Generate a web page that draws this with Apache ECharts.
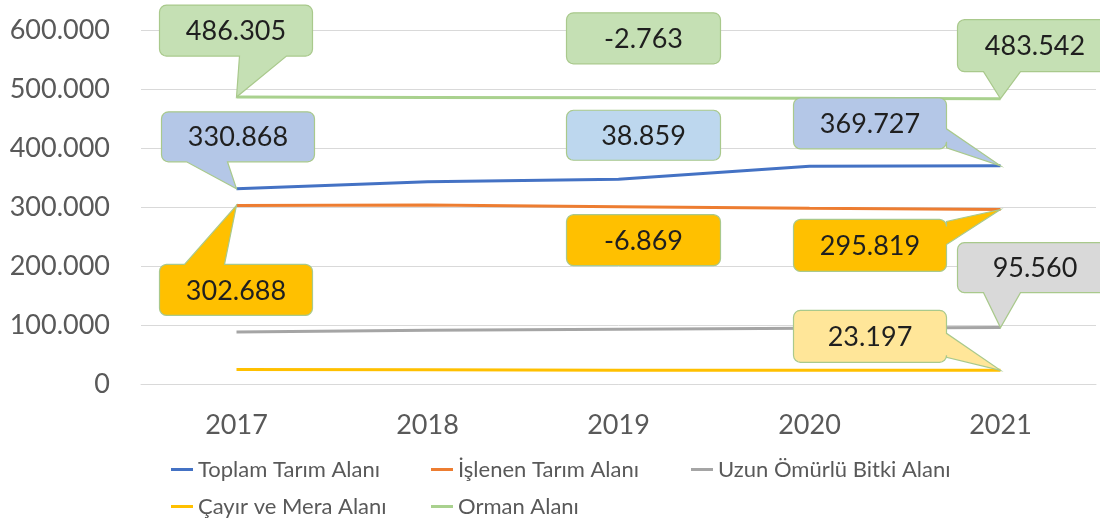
<!DOCTYPE html>
<html>
<head>
<meta charset="utf-8">
<script src="https://cdn.jsdelivr.net/npm/echarts@6/dist/echarts.min.js"></script>
<style>
    html, body { margin: 0; padding: 0; background: #fff; }
    #chart { width: 1100px; height: 525px; }
</style>
</head>
<body>
<div id="chart"></div>
<script>
// veriler
const years = ['2017', '2018', '2019', '2020', '2021'];
const toplamTarim = [330868, 343000, 347000, 369200, 369727];
const islenenTarim = [302688, 303500, 300500, 297800, 295819];
const uzunOmurlu = [88200, 91300, 93000, 94600, 95560];
const cayirMera = [24500, 24000, 23500, 23300, 23197];
const orman = [486305, 485700, 485100, 484300, 483542];
const seriesNames = ['Toplam Tarım Alanı', 'İşlenen Tarım Alanı', 'Uzun Ömürlü Bitki Alanı', 'Çayır ve Mera Alanı', 'Orman Alanı'];
const yMax = 600000;
const yStep = 100000;

(function () {
    let myChart = echarts.init(document.getElementById('chart'));
    const FONT = 'Lato';
    const allData = [toplamTarim, islenenTarim, uzunOmurlu, cayirMera, orman];
    const colors = ['#4472c4', '#ed7d31', '#a5a5a5', '#ffc000', '#a9d18e'];

    // 12345 -> "12.345"
    function fmt(v) {
        let s = String(Math.abs(Math.round(v))).replace(/\B(?=(\d{3})+(?!\d))/g, '.');
        return (v < 0 ? '-' : '') + s;
    }

    // kutucuklar: s = seri, i = yıl, kind = değer / değişim (son - ilk)
    // box = [dx, dy, w, h] noktaya göre, ptr = [kenar, baş, son]
    const callouts = [
        { s: 4, i: 0, kind: 'value', fill: '#c5e0b4', box: [-77, -92, 153, 51], ptr: ['bottom', 3, 50] },
        { s: 0, i: 0, kind: 'value', fill: '#b4c7e7', box: [-75, -77, 153, 50], ptr: ['bottom', -50, -9] },
        { s: 1, i: 0, kind: 'value', fill: '#ffc000', box: [-77, 59, 153, 51], ptr: ['top', -52, -12] },
        { s: 4, i: 2, kind: 'change', fill: '#c5e0b4', box: [-52, -85, 154, 51], ptr: null },
        { s: 0, i: 2, kind: 'change', fill: '#bdd7ee', box: [-52, -69, 154, 50], ptr: null },
        { s: 1, i: 2, kind: 'change', fill: '#ffc000', box: [-52, 8, 154, 51], ptr: null },
        { s: 0, i: 4, kind: 'value', fill: '#b4c7e7', box: [-207, -68, 153, 51], ptr: ['right', -37, -18] },
        { s: 4, i: 4, kind: 'value', fill: '#c5e0b4', box: [-43, -79, 155, 52], ptr: ['bottom', -17, 20] },
        { s: 1, i: 4, kind: 'value', fill: '#ffc000', box: [-207, 10, 153, 52], ptr: ['right', 12, 35] },
        { s: 2, i: 4, kind: 'value', fill: '#d9d9d9', box: [-43, -85, 155, 50], ptr: ['bottom', -17, 20] },
        { s: 3, i: 4, kind: 'value', fill: '#ffe699', box: [-207, -60, 153, 52], ptr: ['right', -37, -13] }
    ];
    callouts.forEach(function (c) {
        let d = allData[c.s];
        c.text = c.kind === 'value' ? fmt(d[c.i]) : fmt(d[d.length - 1] - d[0]);
    });
    const calloutData = callouts.map(function (c) { return [c.i, allData[c.s][c.i]]; });

    function boxPoints(x0, y0, w, h, r, ptr, tip) {
        let x1 = x0 + w, y1 = y0 + h, pts = [];
        function arc(cx, cy, a0) {
            for (let k = 0; k <= 4; k++) {
                let a = a0 + k * Math.PI / 8;
                pts.push([cx + r * Math.cos(a), cy + r * Math.sin(a)]);
            }
        }
        arc(x0 + r, y0 + r, Math.PI);
        if (ptr && ptr[0] === 'top') pts.push([tip[0] + ptr[1], y0], tip.slice(), [tip[0] + ptr[2], y0]);
        arc(x1 - r, y0 + r, 1.5 * Math.PI);
        if (ptr && ptr[0] === 'right') pts.push([x1, tip[1] + ptr[1]], tip.slice(), [x1, tip[1] + ptr[2]]);
        arc(x1 - r, y1 - r, 0);
        if (ptr && ptr[0] === 'bottom') pts.push([tip[0] + ptr[2], y1], tip.slice(), [tip[0] + ptr[1], y1]);
        arc(x0 + r, y1 - r, 0.5 * Math.PI);
        return pts;
    }

    function renderCallout(params, api) {
        let c = callouts[params.dataIndex];
        let p = api.coord([api.value(0), api.value(1)]);
        let x0 = p[0] + c.box[0], y0 = p[1] + c.box[1], w = c.box[2], h = c.box[3];
        return {
            type: 'group',
            children: [
                {
                    type: 'polygon',
                    shape: { points: boxPoints(x0, y0, w, h, 7, c.ptr, p) },
                    style: { fill: c.fill, stroke: '#a9c98c', lineWidth: 1.2 }
                },
                {
                    type: 'text',
                    style: {
                        text: c.text, x: x0 + w / 2, y: y0 + h / 2 + 1,
                        align: 'center', verticalAlign: 'middle',
                        fill: '#1f1f1f', font: '27px ' + FONT
                    }
                }
            ]
        };
    }

    let series = seriesNames.map(function (name, k) {
        return {
            name: name,
            type: 'line',
            data: allData[k],
            symbol: 'none',
            lineStyle: { width: 3, color: colors[k] },
            itemStyle: { color: colors[k] },
            z: 2
        };
    });
    series.push({
        type: 'custom',
        coordinateSystem: 'cartesian2d',
        data: calloutData,
        encode: { x: 0, y: 1 },
        renderItem: renderCallout,
        clip: false,
        silent: true,
        z: 10
    });

    let option = {
        animation: false,
        color: colors,
        grid: { left: 141, right: 4, top: 30, bottom: 141, containLabel: false },
        legend: {
            data: seriesNames,
            left: 166,
            top: 446,
            width: 800,
            icon: 'rect',
            itemWidth: 22,
            itemHeight: 3,
            itemGap: 0,
            textStyle: { fontFamily: FONT, fontSize: 22, color: '#595959', width: 233, lineHeight: 37 }
        },
        xAxis: {
            type: 'category',
            data: years,
            axisLine: { lineStyle: { color: '#d9d9d9', width: 1 } },
            axisTick: { show: false },
            axisLabel: { fontFamily: FONT, fontSize: 27, color: '#595959', margin: 28 }
        },
        yAxis: {
            type: 'value',
            min: 0,
            max: yMax,
            interval: yStep,
            axisLine: { show: false },
            axisTick: { show: false },
            splitLine: { lineStyle: { color: '#d9d9d9', width: 1 } },
            axisLabel: { fontFamily: FONT, fontSize: 27, color: '#595959', margin: 31, formatter: fmt }
        },
        series: series
    };

    myChart.setOption(option);
    window.addEventListener('resize', function () {
        myChart.resize();
    });
})();
</script>
</body>
</html>
